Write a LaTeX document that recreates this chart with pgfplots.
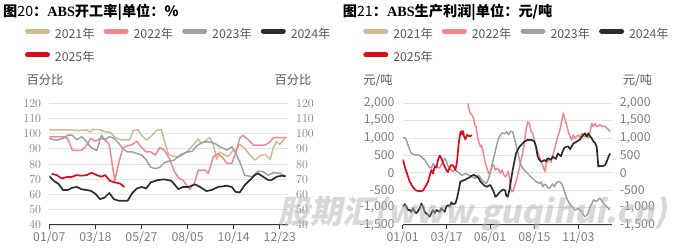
\documentclass[border=0pt]{standalone}
\usepackage{fontspec}
\setmainfont{Noto Sans CJK SC}
\newfontfamily\serifb{Liberation Serif}
\newfontfamily\wm[FakeSlant=0.2]{Noto Sans CJK SC}
\usepackage{pgfplots}
\pgfplotsset{compat=1.18}
\definecolor{c21}{RGB}{205,187,148}
\definecolor{c22}{RGB}{245,135,140}
\definecolor{c23}{RGB}{160,160,160}
\definecolor{c24}{RGB}{45,45,45}
\definecolor{c25}{RGB}{225,10,25}
\definecolor{gridc}{RGB}{226,226,236}
\definecolor{tickc}{RGB}{125,125,135}
\definecolor{legc}{RGB}{89,89,89}
\definecolor{axisc}{RGB}{50,50,50}
\pgfplotsset{
  s21/.style={color=c21, line width=1.5pt, line join=round},
  s22/.style={color=c22, line width=1.5pt, line join=round},
  s23/.style={color=c23, line width=1.5pt, line join=round},
  s24/.style={color=c24, line width=1.7pt, line join=round},
  s25/.style={color=c25, line width=1.7pt, line join=round},
  common/.style={
    scale only axis, anchor=south west,
    axis x line*=bottom, axis y line*=left,
    axis line style={-},
    y axis line style={draw=none},
    x axis line style={draw=axisc, line width=1pt},
    ytick style={draw=none},
    xtick style={draw=axisc, line width=1pt},
    tick align=outside, major tick length=4pt,
    ymajorgrids, grid style={draw=gridc, line width=0.9pt},
    ticklabel style={font=\fontsize{12.3}{14}\selectfont, text=tickc},
    yticklabel style={inner sep=0pt, xshift=-4pt},
    xticklabel style={inner sep=0pt, yshift=-3pt},
    legend columns=4,
    legend cell align=left,
    legend style={draw=none, fill=none, anchor=north west, inner sep=0pt, outer sep=0pt,
      row sep=11.4pt, font=\fontsize{12.3}{14}\selectfont, text=legc,
      nodes={inner sep=0pt, text height=9pt, text depth=3pt},
      /tikz/every odd column/.append style={column sep=5pt},
      /tikz/every even column/.append style={column sep=9pt}},
    legend image code/.code={\draw[##1, line width=5pt, line cap=round] (2.5pt,4pt) -- (22.5pt,4pt);},
  },
  rightlab/.style={
    scale only axis, anchor=south west,
    axis x line=none, axis y line*=right,
    y axis line style={draw=none}, ytick style={draw=none},
    tick align=outside, major tick length=4pt,
    ticklabel style={font=\fontsize{12.3}{14}\selectfont, text=tickc},
    yticklabel style={inner sep=0pt, xshift=4pt},
    xtick=\empty,
  },
}
\begin{document}
\begin{tikzpicture}[x=1pt,y=1pt]
\useasboundingbox (0,0) rectangle (678,248);
% ---------------- left chart ----------------
\node[anchor=west, inner sep=0pt, font=\fontsize{14.2}{16}\selectfont\bfseries] at (3,235.5) {图{\mdseries 20}：{\serifb ABS}开工率|单位：\%};
\node[text=legc, font=\fontsize{12.3}{14}\selectfont] at (45,168) {百分比};
\node[text=legc, font=\fontsize{12.3}{14}\selectfont] at (293,168) {百分比};
\begin{axis}[common, at={(49.3pt,23pt)}, width=238.7pt, height=121.7pt,
  xmin=0, xmax=51.78, ymin=40, ymax=120, ytick={40,50,...,120},
  xtick={0,10,20,30,40,50}, xticklabels={01/07,03/18,05/27,08/05,10/14,12/23},
  legend style={at={(axis description cs:-0.1018,1.6146)}}]
\addplot[s21] coordinates {(0,102.6)(5.2,102.6)(6.3,102)(7.4,102.4)(8.1,102.6)(8.8,101.2)(9.5,102.8)(11,102.6)(12.1,101.3)(13.2,100.9)(13.9,98.7)(14.6,97)(15.7,96)(17.5,96)(18.2,102.2)(19.3,102.6)(20,99)(21.1,95.8)(22.2,98.7)(23.3,102.2)(24.3,102.6)(25.1,94)(25.8,87)(26.2,86)(27.3,85)(28.3,85)(29.4,87)(30.5,90)(31.6,94)(32.3,96.5)(33,93.5)(34.1,96)(34.8,97.4)(35.6,93)(36.3,83)(37,88)(37.7,86.5)(38.8,85)(39.9,89)(40.6,89.3)(41.3,93)(42.4,90.4)(43.5,86)(44.6,82.7)(45.7,85.5)(46.8,86.4)(47.9,83)(48.6,91)(49.3,95)(50,93)(51.1,97)};
\addlegendentry{2021年}
\addplot[s22] coordinates {(0,98)(1,98)(2,98)(3,98)(4,97)(5,89)(6,89)(7,89)(8,92)(9,97)(10,95)(11,97)(12,96)(13,93)(14.2,69)(15,80)(16,91)(17,92)(18,93)(19,95)(20,91)(21,88)(22,88)(23,86)(24,91)(25,89)(26,84)(27,76)(28,71)(29,69.5)(30,65)(30.5,63.5)(31.6,68.4)(32.3,76)(33.8,76)(34.5,74)(35.6,85)(36.6,87)(37.7,84)(38.5,80.5)(39.6,80.5)(40.6,89)(41.3,97)(42,99)(43.2,96)(44.3,92.5)(46.8,92.5)(47.9,94.7)(48.6,97.4)(51.5,97.4)};
\addlegendentry{2022年}
\addplot[s23] coordinates {(0,97)(1,96)(2,96)(3,97)(4,99)(5,99)(6,96)(7,98)(8,95)(9,91)(10.3,89)(11.3,99)(12,96)(13,98)(14,97)(15,94)(16,90)(17,88)(18,88)(19,87)(20,86)(21,83)(22,78)(23,77)(24,78)(25,81)(26,82)(27,82.5)(28,85)(29,87)(30,88)(31,88.5)(32,92)(33,94)(34,94.7)(35,94.5)(36,93.5)(37,91.4)(38,90)(38.5,89.3)(39.6,91.4)(40.3,88)(41.3,81.6)(42.4,72.8)(43.9,71.7)(45.3,75.4)(46.4,75)(47.5,72.8)(48.6,74.3)(50,74)(51.1,72.4)};
\addlegendentry{2023年}
\addplot[s24] coordinates {(0,72)(1,69)(2,67)(3,63)(4,63)(5,64.5)(6,65)(7,63.5)(8,63)(9,62.5)(10,60.5)(11,57)(12,58)(13,61)(14,57)(15,56)(16,56)(17,56)(18,61)(19,64)(20,65)(21,64)(22,68)(23.5,69.5)(25,70)(26.5,69)(28,63.6)(29,65)(30.2,65)(31.6,66.7)(32.7,65)(34.1,62.3)(35.2,63)(36.6,65)(38.5,65.8)(39.6,65)(40.4,61.8)(41.3,61.4)(42.4,66.2)(43.5,69.5)(44.6,72.8)(45.3,73.9)(46.4,71.7)(47.5,69.5)(48.2,69.5)(49.3,71.7)(50.4,72.4)(51.3,72)};
\addlegendentry{2024年}
\addplot[s25] coordinates {(0.5,73.7)(1.6,72.8)(2.7,70.6)(3.8,71.5)(4.8,71.5)(5.9,72.8)(7,72.4)(8.1,72.8)(9.2,74.3)(10.3,72.8)(11.3,71.7)(12.1,72.8)(13.2,68.9)(14.2,68)(15.3,67.3)(16.3,65)};
\addlegendentry{2025年}
\end{axis}
\begin{axis}[rightlab, at={(49.3pt,23pt)}, width=238.7pt, height=121.7pt,
  xmin=0, xmax=51.78, ymin=40, ymax=120, ytick={40,50,...,120}]
\addplot[draw=none] coordinates {(0,40)};
\end{axis}
% ---------------- right chart ----------------
\node[anchor=west, inner sep=0pt, font=\fontsize{14.2}{16}\selectfont\bfseries] at (342.7,235.5) {图{\mdseries 21}：{\serifb ABS}生产利润|单位：元/吨};
\node[text=legc, font=\fontsize{12.3}{14}\selectfont] at (378,168) {元/吨};
\node[text=legc, font=\fontsize{12.3}{14}\selectfont] at (637.5,168) {元/吨};
\begin{axis}[common, at={(402.7pt,23pt)}, width=209pt, height=121.7pt,
  xmin=188, xmax=815, ymin=-1500, ymax=2000, ytick={-1500,-1000,...,2000},
  yticklabels={{-1,500},{-1,000},{-500},{0},{500},{1,000},{1,500},{2,000}},
  xtick={188,320,450,583,715}, xticklabels={01/01,03/17,06/01,08/15,11/03},
  legend style={at={(axis description cs:-0.1885,1.6146)}}]
\addlegendimage{s21}\addlegendentry{2021年}
\addplot[s22] coordinates {(384,2000)(386,1860)(391,1710)(396,1660)(401,1570)(404,1380)(408,1330)(411,1140)(416,900)(421,750)(424,800)(428,660)(431,510)(436,270)(441,130)(446,-20)(451,30)(456,180)(461,225)(466,80)(471,130)(476,100)(481,-20)(486,80)(491,-40)(496,-115)(501,-50)(505,50)(508,-115)(513,-500)(518,-540)(523,-400)(528,-250)(533,-60)(538,130)(543,370)(548,560)(553,850)(558,1230)(563,1470)(568,1420)(573,1180)(578,1140)(583,945)(588,750)(593,610)(598,465)(603,320)(608,225)(613,80)(616,30)(618,250)(623,320)(628,420)(633,300)(638,510)(643,660)(648,850)(653,1040)(658,1180)(663,1380)(667,1600)(670,1710)(675,1520)(680,1380)(685,1180)(690,1040)(695,945)(700,1090)(705,990)(710,1050)(715,1090)(720,1000)(725,1140)(730,1080)(735,1040)(740,1060)(745,1000)(750,1180)(755,1420)(760,1330)(765,1420)(770,1330)(775,1350)(780,1380)(785,1350)(790,1330)(795,1340)(800,1280)(805,1250)(810,1180)};
\addlegendentry{2022年}
\addplot[s23] coordinates {(190,1000)(194,1020)(199,945)(204,800)(209,660)(214,560)(224,515)(234,520)(244,465)(254,370)(264,225)(269,150)(274,140)(279,260)(284,220)(289,180)(294,150)(299,140)(304,250)(309,330)(314,420)(319,330)(324,200)(329,150)(336,50)(346,80)(356,0)(366,-70)(376,-20)(386,-60)(396,-115)(406,-160)(416,-70)(426,-210)(436,-300)(441,-270)(446,-150)(452,50)(458,300)(464,550)(470,800)(476,1000)(482,1100)(488,1150)(494,1120)(500,1180)(506,1100)(512,1200)(518,1180)(523,1000)(528,800)(533,610)(538,370)(543,225)(548,130)(558,30)(568,-70)(578,-160)(588,-250)(598,-300)(603,-260)(608,-400)(613,-330)(618,-350)(623,-420)(628,-450)(633,-380)(638,-320)(643,-400)(648,-300)(653,-260)(658,-250)(663,-290)(668,-380)(675,-590)(680,-720)(685,-830)(690,-900)(695,-970)(700,-1000)(705,-1070)(710,-1050)(715,-1020)(720,-1080)(725,-1120)(730,-1210)(735,-1260)(740,-1220)(745,-1150)(750,-970)(755,-900)(760,-780)(765,-800)(770,-830)(775,-760)(780,-730)(785,-800)(790,-880)(795,-920)(800,-970)(805,-1020)(810,-1070)};
\addlegendentry{2023年}
\addplot[s24] coordinates {(189,-970)(194,-900)(199,-970)(204,-1070)(209,-1070)(214,-1120)(219,-1020)(224,-1120)(229,-1160)(234,-1100)(239,-1020)(244,-880)(249,-970)(254,-1120)(259,-1170)(264,-1210)(269,-1260)(274,-1160)(279,-1070)(284,-1160)(289,-1070)(294,-1100)(299,-1120)(304,-1020)(309,-1070)(314,-1120)(319,-970)(324,-925)(329,-970)(334,-850)(339,-900)(346,-880)(351,-730)(356,-500)(361,-250)(366,-240)(371,-210)(376,-200)(381,-160)(386,-150)(391,-110)(396,-80)(401,-60)(406,-80)(411,-110)(416,-150)(421,-250)(426,-300)(431,-350)(436,-380)(441,-400)(446,-370)(451,-350)(456,-450)(461,-540)(466,-690)(471,-650)(476,-590)(481,-540)(486,-500)(491,-480)(496,-520)(498,-640)(503,-690)(508,-500)(513,-210)(518,80)(523,320)(528,560)(533,660)(538,750)(543,800)(548,850)(553,900)(558,920)(563,950)(568,940)(573,950)(578,930)(583,900)(588,750)(593,465)(598,380)(603,320)(608,340)(613,370)(618,330)(623,420)(628,400)(633,380)(638,465)(643,430)(648,400)(653,560)(658,520)(663,480)(668,620)(673,720)(678,750)(685,760)(690,680)(695,760)(700,850)(705,870)(710,900)(715,930)(720,960)(725,1030)(730,1090)(735,1140)(740,1040)(745,1140)(750,1050)(755,1000)(760,900)(765,860)(770,750)(775,180)(780,200)(785,190)(790,200)(795,220)(800,320)(805,450)(810,560)};
\addlegendentry{2024年}
\addplot[s25] coordinates {(189,380)(194,180)(199,40)(204,-110)(209,-250)(219,-420)(229,-510)(239,-530)(249,-510)(254,-430)(264,-260)(269,-80)(274,80)(279,-20)(284,180)(289,150)(294,370)(299,500)(304,420)(309,280)(314,180)(319,80)(324,20)(329,160)(334,230)(340,200)(346,80)(351,320)(356,850)(361,1150)(364,1200)(367,1100)(369,1200)(372,1050)(376,960)(381,1090)(386,1060)(391,1060)(396,1080)};
\addlegendentry{2025年}
\end{axis}
\begin{axis}[rightlab, at={(402.7pt,23pt)}, width=209pt, height=121.7pt,
  xmin=188, xmax=815, ymin=-1500, ymax=2000, ytick={-1500,-1000,...,2000},
  yticklabels={{-1,500},{-1,000},{-500},{0},{500},{1,000},{1,500},{2,000}}]
\addplot[draw=none] coordinates {(188,0)};
\end{axis}
% watermark
\node[anchor=base west, inner sep=0pt, text=black!30, opacity=0.5, font=\wm\bfseries\fontsize{32}{36}\selectfont] at (278,24) {股期汇(www.guqihui.cn)};
\end{tikzpicture}
\end{document}
